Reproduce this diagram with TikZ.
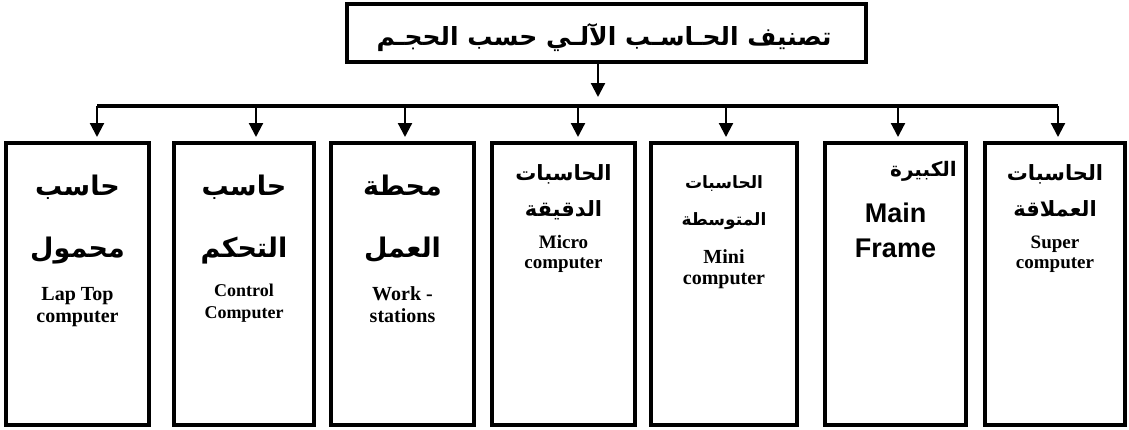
\documentclass[tikz,border=0pt]{standalone}
\usepackage{fontspec}
\setmainfont{Liberation Serif}
\newfontfamily\arabicfont[Script=Arabic]{DejaVu Sans}
\newfontfamily\arialfont{Liberation Sans}
\TeXXeTstate=1
\usetikzlibrary{arrows.meta}
\tikzset{
  box/.style={draw, line width=3.5pt, minimum height=282pt, inner sep=0pt},
  arr/.style={line width=2.2pt, -{Triangle[length=14pt,width=14pt]}},
  bus/.style={line width=4pt},
  ar/.style={font=\arabicfont\bfseries\fontsize{#1}{#1}\selectfont, anchor=base, inner sep=0pt},
  en/.style={font=\bfseries\fontsize{#1}{#1}\selectfont, anchor=base, inner sep=0pt},
  ensans/.style={font=\arialfont\bfseries\fontsize{#1}{#1}\selectfont, anchor=base, inner sep=0pt},
}
\begin{document}
\begin{tikzpicture}[x=1pt, y=-1pt]
  \useasboundingbox (0,0) rectangle (1129,429);
  \node[draw, line width=3.5pt, minimum width=519pt, minimum height=58pt, inner sep=0pt] (title) at (606.5,33) {};
  \node[ar=25] (ttl) at (604,45) {\beginR تصنيف الحـاسـب الآلـي حسب الحجـم\endR};
  \coordinate (hub) at (598,97);
  \draw[arr] (title.south -| hub) -- (hub);
  \foreach \i/\x/\c/\w in {1/97/77.5/143, 2/256/244/140, 3/405/402.5/143, 4/578/563.5/143,
                           5/726/724/146, 6/898/895.5/141, 7/1058/1055/140} {
      \node[box, minimum width=\w pt] (box\i) at (\c,284) {};
      \coordinate (b\i) at (\x,106);
      \coordinate (a\i) at (\x,137);
      \draw[arr] (b\i) -- (a\i);
  }
  \draw[bus] (b1) -- (b7);
  % box 1
  \node[ar=27] (l1a) at (77.5,195) {\beginR حاسب\endR};
  \node[ar=27] (l1b) at (77.5,257) {\beginR محمول\endR};
  \node[en=20] (l1c) at (77.5,300) {Lap Top};
  \node[en=20] (l1d) at (77.5,322) {computer};
  % box 2
  \node[ar=27] (l2a) at (244,195) {\beginR حاسب\endR};
  \node[ar=27] (l2b) at (244,257) {\beginR التحكم\endR};
  \node[en=18] (l2c) at (244,296) {Control};
  \node[en=18] (l2d) at (244,318) {Computer};
  % box 3
  \node[ar=27] (l3a) at (402.5,195) {\beginR محطة\endR};
  \node[ar=27] (l3b) at (402.5,257) {\beginR العمل\endR};
  \node[en=20] (l3c) at (402.5,300) {Work -};
  \node[en=20] (l3d) at (402.5,322) {stations};
  % box 4
  \node[ar=21] (l4a) at (563.5,180) {\beginR الحاسبات\endR};
  \node[ar=21] (l4b) at (563.5,216) {\beginR الدقيقة\endR};
  \node[en=19] (l4c) at (563.5,248) {Micro};
  \node[en=19] (l4d) at (563.5,268) {computer};
  % box 5
  \node[ar=17] (l5a) at (724,188) {\beginR الحاسبات\endR};
  \node[ar=17] (l5b) at (724,225) {\beginR المتوسطة\endR};
  \node[en=20] (l5c) at (724,263) {Mini};
  \node[en=20] (l5d) at (724,284) {computer};
  % box 6
  \node[ar=20, anchor=base west] (l6a) at (890,176) {\beginR الكبيرة\endR};
  \node[ensans=27] (l6b) at (895.5,222) {Main};
  \node[ensans=27] (l6c) at (895.5,257) {Frame};
  % box 7
  \node[ar=21] (l7a) at (1055,180) {\beginR الحاسبات\endR};
  \node[ar=21] (l7b) at (1055,216) {\beginR العملاقة\endR};
  \node[en=19] (l7c) at (1055,248) {Super};
  \node[en=19] (l7d) at (1055,268) {computer};
\end{tikzpicture}
\end{document}
